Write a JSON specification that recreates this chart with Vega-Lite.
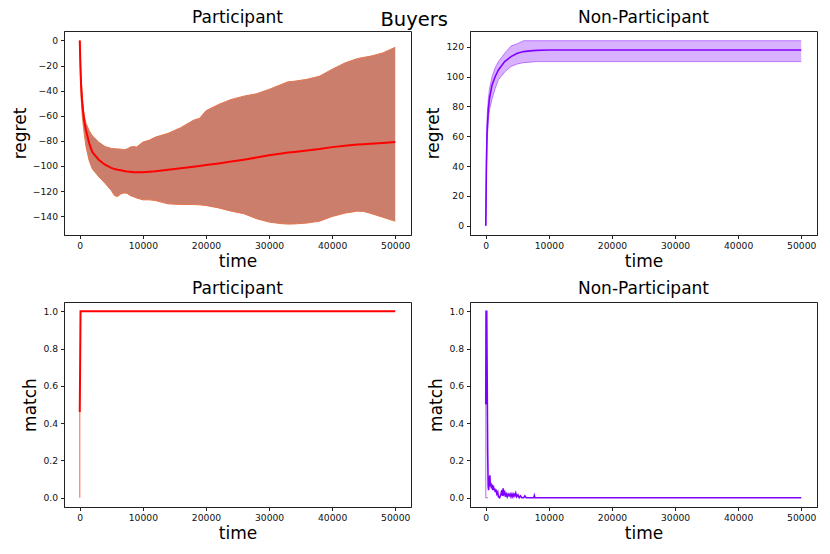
{
  "$schema": "https://vega.github.io/schema/vega-lite/v6.json",
  "padding": {"left": 10, "top": 8, "right": 5, "bottom": 5},
  "background": "white",
  "title": {"text": "Buyers", "fontSize": 19.5, "anchor": "middle", "dx": 0, "offset": -22},
  "datasets": {
    "tl": [
      {"t": 0, "mean": 0, "lo": 0, "hi": 0},
      {"t": 100, "mean": -20, "lo": -28, "hi": -14},
      {"t": 200, "mean": -35, "lo": -45, "hi": -28},
      {"t": 400, "mean": -50, "lo": -60, "hi": -45},
      {"t": 600, "mean": -60, "lo": -70, "hi": -56},
      {"t": 800, "mean": -67, "lo": -78, "hi": -62},
      {"t": 1000, "mean": -72, "lo": -85, "hi": -66},
      {"t": 1500, "mean": -82, "lo": -96, "hi": -72},
      {"t": 2000, "mean": -89, "lo": -102.5, "hi": -76},
      {"t": 3000, "mean": -95, "lo": -108.5, "hi": -81},
      {"t": 4000, "mean": -99, "lo": -113.8, "hi": -84.5},
      {"t": 5000, "mean": -101.5, "lo": -119.6, "hi": -86},
      {"t": 5500, "mean": -102.5, "lo": -123.6, "hi": -86.2},
      {"t": 6000, "mean": -103, "lo": -124.4, "hi": -86.4},
      {"t": 6500, "mean": -103.5, "lo": -122.3, "hi": -86.6},
      {"t": 7000, "mean": -104, "lo": -121.5, "hi": -87},
      {"t": 7500, "mean": -104.5, "lo": -121.8, "hi": -86.5},
      {"t": 8000, "mean": -104.7, "lo": -123.6, "hi": -85},
      {"t": 8500, "mean": -105, "lo": -124.5, "hi": -84.5},
      {"t": 9000, "mean": -105, "lo": -125.5, "hi": -85},
      {"t": 10000, "mean": -105, "lo": -127, "hi": -81},
      {"t": 11000, "mean": -104.6, "lo": -127, "hi": -79.5},
      {"t": 12000, "mean": -104.2, "lo": -127.6, "hi": -77},
      {"t": 14000, "mean": -103, "lo": -130.2, "hi": -74},
      {"t": 16000, "mean": -101.8, "lo": -130.7, "hi": -69.5},
      {"t": 18000, "mean": -100.6, "lo": -130.7, "hi": -63.6},
      {"t": 19000, "mean": -100, "lo": -131, "hi": -62},
      {"t": 20000, "mean": -99.3, "lo": -131.5, "hi": -56},
      {"t": 22000, "mean": -98, "lo": -133.4, "hi": -51},
      {"t": 24000, "mean": -96.5, "lo": -136, "hi": -47},
      {"t": 26000, "mean": -95, "lo": -138, "hi": -44.4},
      {"t": 28000, "mean": -93.3, "lo": -142, "hi": -42.5},
      {"t": 30000, "mean": -91.5, "lo": -144.7, "hi": -39},
      {"t": 32000, "mean": -90, "lo": -146, "hi": -35},
      {"t": 33000, "mean": -89.3, "lo": -146.3, "hi": -33},
      {"t": 34000, "mean": -88.8, "lo": -146.2, "hi": -32.5},
      {"t": 36000, "mean": -87.7, "lo": -145.5, "hi": -31},
      {"t": 38000, "mean": -86.5, "lo": -144, "hi": -28.5},
      {"t": 40000, "mean": -85, "lo": -140.3, "hi": -23},
      {"t": 42000, "mean": -84, "lo": -137.6, "hi": -18},
      {"t": 44000, "mean": -83, "lo": -136, "hi": -14.5},
      {"t": 45000, "mean": -82.7, "lo": -136.3, "hi": -13.5},
      {"t": 46000, "mean": -82.3, "lo": -137.6, "hi": -12.7},
      {"t": 48000, "mean": -81.7, "lo": -140.8, "hi": -10},
      {"t": 50000, "mean": -81, "lo": -144, "hi": -5.5}
    ],
    "tr": [
      {"t": 0, "mean": 0, "lo": 0, "hi": 0},
      {"t": 100, "mean": 40, "lo": 30, "hi": 50},
      {"t": 200, "mean": 62, "lo": 55, "hi": 72},
      {"t": 400, "mean": 78, "lo": 70, "hi": 85},
      {"t": 600, "mean": 85.6, "lo": 78, "hi": 92},
      {"t": 1000, "mean": 94.4, "lo": 85, "hi": 100},
      {"t": 1500, "mean": 100, "lo": 92, "hi": 106},
      {"t": 2000, "mean": 104.4, "lo": 97.8, "hi": 110},
      {"t": 3000, "mean": 110, "lo": 103, "hi": 115.6},
      {"t": 4000, "mean": 113.3, "lo": 106.7, "hi": 120.4},
      {"t": 5000, "mean": 115.6, "lo": 108.4, "hi": 122},
      {"t": 6000, "mean": 116.7, "lo": 109.3, "hi": 124},
      {"t": 7000, "mean": 117.2, "lo": 109.6, "hi": 124},
      {"t": 8000, "mean": 117.5, "lo": 110, "hi": 124},
      {"t": 10000, "mean": 117.8, "lo": 110, "hi": 124},
      {"t": 20000, "mean": 117.8, "lo": 110, "hi": 124},
      {"t": 50000, "mean": 117.8, "lo": 110, "hi": 124}
    ],
    "blband": [
      {"i": 0, "t": 0, "v": 0},
      {"i": 1, "t": 0, "v": 0.46}
    ],
    "bl": [
      {"i": 0, "t": 0, "v": 0.46},
      {"i": 1, "t": 120, "v": 1.0},
      {"i": 2, "t": 50000, "v": 1.0}
    ],
    "brband": [
      {"i": 0, "t": 350, "v": 0},
      {"i": 1, "t": 0, "v": 0},
      {"i": 2, "t": 0, "v": 0.5}
    ],
    "br": [
      {"i": 0, "t": 0, "v": 0.5},
      {"i": 1, "t": 40, "v": 1.0},
      {"i": 2, "t": 150, "v": 1.0},
      {"i": 3, "t": 300, "v": 0.25},
      {"i": 4, "t": 380, "v": 0.06},
      {"i": 5, "t": 450, "v": 0.04},
      {"i": 6, "t": 550, "v": 0.09},
      {"i": 7, "t": 650, "v": 0.12},
      {"i": 8, "t": 720, "v": 0.06},
      {"i": 9, "t": 800, "v": 0.08},
      {"i": 10, "t": 900, "v": 0.05},
      {"i": 11, "t": 1000, "v": 0.07},
      {"i": 12, "t": 1100, "v": 0.04},
      {"i": 13, "t": 1200, "v": 0.065},
      {"i": 14, "t": 1300, "v": 0.04},
      {"i": 15, "t": 1400, "v": 0.05},
      {"i": 16, "t": 1500, "v": 0.03},
      {"i": 17, "t": 1600, "v": 0.045},
      {"i": 18, "t": 1750, "v": 0.02},
      {"i": 19, "t": 1900, "v": 0.03},
      {"i": 20, "t": 2000, "v": 0.005},
      {"i": 21, "t": 2200, "v": 0.0},
      {"i": 22, "t": 2400, "v": 0.02},
      {"i": 23, "t": 2550, "v": 0.04},
      {"i": 24, "t": 2650, "v": 0.01},
      {"i": 25, "t": 2750, "v": 0.05},
      {"i": 26, "t": 2850, "v": 0.02},
      {"i": 27, "t": 3000, "v": 0.03},
      {"i": 28, "t": 3100, "v": 0.005},
      {"i": 29, "t": 3250, "v": 0.02},
      {"i": 30, "t": 3400, "v": 0.005},
      {"i": 31, "t": 3550, "v": 0.02},
      {"i": 32, "t": 3700, "v": 0.01},
      {"i": 33, "t": 3850, "v": 0.02},
      {"i": 34, "t": 4000, "v": 0.005},
      {"i": 35, "t": 4150, "v": 0.02},
      {"i": 36, "t": 4300, "v": 0.005},
      {"i": 37, "t": 4450, "v": 0.02},
      {"i": 38, "t": 4600, "v": 0.01},
      {"i": 39, "t": 4750, "v": 0.025},
      {"i": 40, "t": 4900, "v": 0.005},
      {"i": 41, "t": 5100, "v": 0.015},
      {"i": 42, "t": 5300, "v": 0.0},
      {"i": 43, "t": 5500, "v": 0.01},
      {"i": 44, "t": 5700, "v": 0.0},
      {"i": 45, "t": 6000, "v": 0.0},
      {"i": 46, "t": 6200, "v": 0.01},
      {"i": 47, "t": 6400, "v": 0.0},
      {"i": 48, "t": 7600, "v": 0.0},
      {"i": 49, "t": 7700, "v": 0.012},
      {"i": 50, "t": 7800, "v": 0.0},
      {"i": 51, "t": 50000, "v": 0.0}
    ]
  },
  "bounds": "flush",
  "columns": 2,
  "spacing": {"row": 67, "column": 59},
  "concat": [
    {
      "title": "Participant",
      "width": 347,
      "height": 204,
      "data": {"name": "tl"},
      "encoding": {
        "x": {"field": "t", "type": "quantitative", "scale": {"domain": [-2500, 52500], "nice": false, "zero": false}, "axis": {"title": "time", "values": [0, 10000, 20000, 30000, 40000, 50000], "format": "d"}}
      },
      "layer": [
        {"mark": {"type": "area", "color": "#cc7e6c", "opacity": 1},
         "encoding": {"y": {"field": "lo", "type": "quantitative", "scale": {"domain": [-155, 7.5], "nice": false, "zero": false}, "axis": {"title": "regret", "values": [-140, -120, -100, -80, -60, -40, -20, 0]}}, "y2": {"field": "hi"}}},
        {"mark": {"type": "line", "color": "#e3764f", "strokeWidth": 1}, "encoding": {"y": {"field": "hi", "type": "quantitative", "scale": {"domain": [-155, 7.5], "nice": false, "zero": false}, "axis": {"title": "regret", "values": [-140, -120, -100, -80, -60, -40, -20, 0]}}}},
        {"mark": {"type": "line", "color": "#e3764f", "strokeWidth": 1}, "encoding": {"y": {"field": "lo", "type": "quantitative", "scale": {"domain": [-155, 7.5], "nice": false, "zero": false}, "axis": {"title": "regret", "values": [-140, -120, -100, -80, -60, -40, -20, 0]}}}},
        {"mark": {"type": "line", "color": "#ff0000", "strokeWidth": 2}, "encoding": {"y": {"field": "mean", "type": "quantitative", "scale": {"domain": [-155, 7.5], "nice": false, "zero": false}, "axis": {"title": "regret", "values": [-140, -120, -100, -80, -60, -40, -20, 0]}}}}
      ]
    },
    {
      "title": "Non-Participant",
      "width": 347,
      "height": 204,
      "data": {"name": "tr"},
      "encoding": {
        "x": {"field": "t", "type": "quantitative", "scale": {"domain": [-2500, 52500], "nice": false, "zero": false}, "axis": {"title": "time", "values": [0, 10000, 20000, 30000, 40000, 50000], "format": "d"}}
      },
      "layer": [
        {"mark": {"type": "area", "color": "#8000ff", "opacity": 0.3},
         "encoding": {"y": {"field": "lo", "type": "quantitative", "scale": {"domain": [-6.2, 130.5], "nice": false, "zero": false}, "axis": {"title": "regret", "values": [0, 20, 40, 60, 80, 100, 120]}}, "y2": {"field": "hi"}}},
        {"mark": {"type": "line", "color": "#8000ff", "strokeWidth": 1, "opacity": 0.45}, "encoding": {"y": {"field": "hi", "type": "quantitative", "scale": {"domain": [-6.2, 130.5], "nice": false, "zero": false}, "axis": {"title": "regret", "values": [0, 20, 40, 60, 80, 100, 120]}}}},
        {"mark": {"type": "line", "color": "#8000ff", "strokeWidth": 1, "opacity": 0.45}, "encoding": {"y": {"field": "lo", "type": "quantitative", "scale": {"domain": [-6.2, 130.5], "nice": false, "zero": false}, "axis": {"title": "regret", "values": [0, 20, 40, 60, 80, 100, 120]}}}},
        {"mark": {"type": "line", "color": "#8000ff", "strokeWidth": 1.6}, "encoding": {"y": {"field": "mean", "type": "quantitative", "scale": {"domain": [-6.2, 130.5], "nice": false, "zero": false}, "axis": {"title": "regret", "values": [0, 20, 40, 60, 80, 100, 120]}}}}
      ]
    },
    {
      "title": "Participant",
      "width": 347,
      "height": 205,
      "layer": [
        {"data": {"name": "blband"},
         "mark": {"type": "line", "color": "#ff5a3c", "strokeWidth": 1.2, "opacity": 0.8},
         "encoding": {
           "x": {"field": "t", "type": "quantitative", "scale": {"domain": [-2500, 52500], "nice": false, "zero": false}, "axis": {"title": "time", "values": [0, 10000, 20000, 30000, 40000, 50000], "format": "d"}},
           "y": {"field": "v", "type": "quantitative", "scale": {"domain": [-0.05, 1.05], "nice": false, "zero": false}, "axis": {"title": "match", "values": [0, 0.2, 0.4, 0.6, 0.8, 1.0], "format": ".1f"}},
           "order": {"field": "i"}}},
        {"data": {"name": "bl"},
         "mark": {"type": "line", "color": "#ff0000", "strokeWidth": 2},
         "encoding": {
           "x": {"field": "t", "type": "quantitative", "scale": {"domain": [-2500, 52500], "nice": false, "zero": false}, "axis": {"title": "time", "values": [0, 10000, 20000, 30000, 40000, 50000], "format": "d"}},
           "y": {"field": "v", "type": "quantitative", "scale": {"domain": [-0.05, 1.05], "nice": false, "zero": false}, "axis": {"title": "match", "values": [0, 0.2, 0.4, 0.6, 0.8, 1.0], "format": ".1f"}},
           "order": {"field": "i"}}}
      ]
    },
    {
      "title": "Non-Participant",
      "width": 347,
      "height": 205,
      "layer": [
        {"data": {"name": "brband"},
         "mark": {"type": "line", "color": "#a64dff", "strokeWidth": 1.2, "opacity": 0.7},
         "encoding": {
           "x": {"field": "t", "type": "quantitative", "scale": {"domain": [-2500, 52500], "nice": false, "zero": false}, "axis": {"title": "time", "values": [0, 10000, 20000, 30000, 40000, 50000], "format": "d"}},
           "y": {"field": "v", "type": "quantitative", "scale": {"domain": [-0.05, 1.05], "nice": false, "zero": false}, "axis": {"title": "match", "values": [0, 0.2, 0.4, 0.6, 0.8, 1.0], "format": ".1f"}},
           "order": {"field": "i"}}},
        {"data": {"name": "br"},
         "mark": {"type": "line", "color": "#8000ff", "strokeWidth": 1.6},
         "encoding": {
           "x": {"field": "t", "type": "quantitative", "scale": {"domain": [-2500, 52500], "nice": false, "zero": false}, "axis": {"title": "time", "values": [0, 10000, 20000, 30000, 40000, 50000], "format": "d"}},
           "y": {"field": "v", "type": "quantitative", "scale": {"domain": [-0.05, 1.05], "nice": false, "zero": false}, "axis": {"title": "match", "values": [0, 0.2, 0.4, 0.6, 0.8, 1.0], "format": ".1f"}},
           "order": {"field": "i"}}}
      ]
    }
  ],
  "config": {
    "font": "DejaVu Sans",
    "view": {"stroke": "#222222", "strokeWidth": 1},
    "axis": {
      "grid": false,
      "domainColor": "#222222",
      "tickColor": "#222222",
      "tickSize": 3.5,
      "labelColor": "#111111",
      "labelFont": "DejaVu Sans",
      "labelFontSize": 9.2,
      "labelPadding": 3,
      "labelFlush": false,
      "labelOverlap": false,
      "titleFont": "DejaVu Sans",
      "titleFontSize": 17,
      "titleFontWeight": "normal",
      "titleColor": "#000000"
    },
    "axisX": {"titlePadding": 3},
    "axisY": {"titlePadding": 3},
    "title": {"font": "DejaVu Sans", "fontSize": 17, "fontWeight": "normal", "color": "#000000", "offset": 4}
  }
}
